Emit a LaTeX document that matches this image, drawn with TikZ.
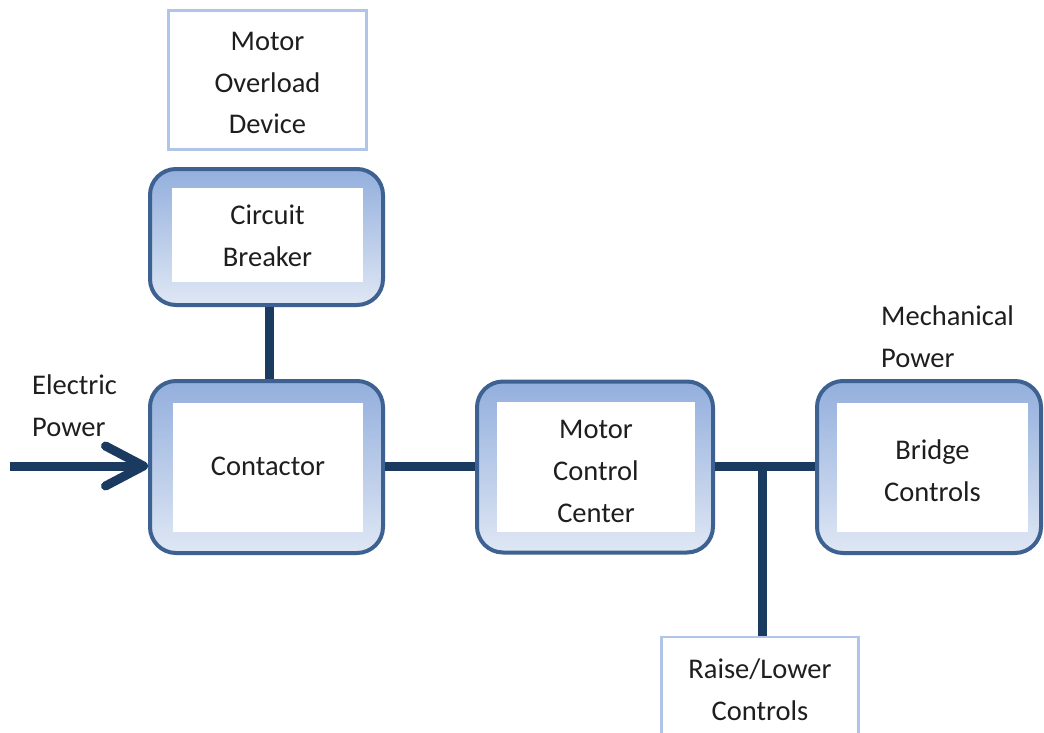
\documentclass[tikz,border=0pt]{standalone}
\usepackage{fontspec}
\setmainfont{Carlito}
\usetikzlibrary{arrows.meta,calc}

\definecolor{frame}{HTML}{3D6191}
\definecolor{shadetop}{HTML}{93AFDD}
\definecolor{shadebot}{HTML}{DFE7F4}
\definecolor{wire}{HTML}{1B3A60}
\definecolor{thinframe}{HTML}{B0C5E8}
\definecolor{ink}{HTML}{1E1E1E}

\tikzset{
  labelfont/.style={font=\fontsize{28.5}{41.8}\selectfont, text=ink},
  outerbox/.style={draw=frame, line width=4pt, rounded corners=26pt,
    top color=shadetop, bottom color=shadebot, inner sep=0pt},
  panel/.style={fill=white, inner sep=0pt},
  caption/.style={inner sep=0pt, align=center, labelfont},
  plainbox/.style={draw=thinframe, line width=2.5pt, fill=white, inner sep=0pt},
  freetext/.style={inner sep=0pt, align=left, labelfont},
  wireline/.style={draw=wire, line width=9pt},
}

\begin{document}
\begin{tikzpicture}[x=1pt, y=-1pt]
  \clip (0,0) rectangle (1044,733);

  % protection devices above the contactor
  \node[plainbox, minimum width=198pt, minimum height=139pt] (overload) at (267.5,80) {};
  \node[caption] (overloadtxt) at (267.5,83) {Motor\\Overload\\Device};

  \node[outerbox, minimum width=233pt, minimum height=136pt] (breaker) at (266.5,237) {};
  \node[panel, minimum width=191pt, minimum height=94pt] (breakerpanel) at (267.5,235) {};
  \node[caption] (breakertxt) at (267.5,235.5) {Circuit\\Breaker};

  % main power chain
  \node[outerbox, minimum width=233pt, minimum height=172pt] (contactor) at (266.5,467) {};
  \node[panel, minimum width=190pt, minimum height=129pt] (contactorpanel) at (268,467) {};
  \node[caption] (contactortxt) at (268,466) {Contactor};

  \node[outerbox, minimum width=236pt, minimum height=171pt] (mcc) at (595,467) {};
  \node[panel, minimum width=198pt, minimum height=130pt] (mccpanel) at (596,467) {};
  \node[caption] (mcctxt) at (596,471.5) {Motor\\Control\\Center};

  \node[outerbox, minimum width=224pt, minimum height=172pt] (bridge) at (929,467) {};
  \node[panel, minimum width=191pt, minimum height=129pt] (bridgepanel) at (932.5,467) {};
  \node[caption] (bridgetxt) at (932.5,471) {Bridge\\Controls};

  \node[plainbox, minimum width=197pt, minimum height=104pt] (raise) at (760,689) {};
  \node[caption] (raisetxt) at (760,689.5) {Raise/Lower\\Controls};

  % free labels
  \node[freetext, anchor=west] (elec) at (32,406) {Electric\\Power};
  \node[freetext, anchor=west] (mech) at (881,336.5) {Mechanical\\Power};

  % connectors
  \coordinate (feed) at (10,466);
  \coordinate (tee) at (762,466);
  \draw[wireline, -{Straight Barb[length=38pt, width=40pt, round]}] (feed) -- (feed -| contactor.west);
  \draw[wireline] (breaker.south -| 269,0) -- (contactor.north -| 269,0);
  \draw[wireline] (contactor.east |- tee) -- (mcc.west |- tee);
  \draw[wireline] (mcc.east |- tee) -- (bridge.west |- tee);
  \draw[wireline] (tee) -- (tee |- raise.north);
\end{tikzpicture}
\end{document}
